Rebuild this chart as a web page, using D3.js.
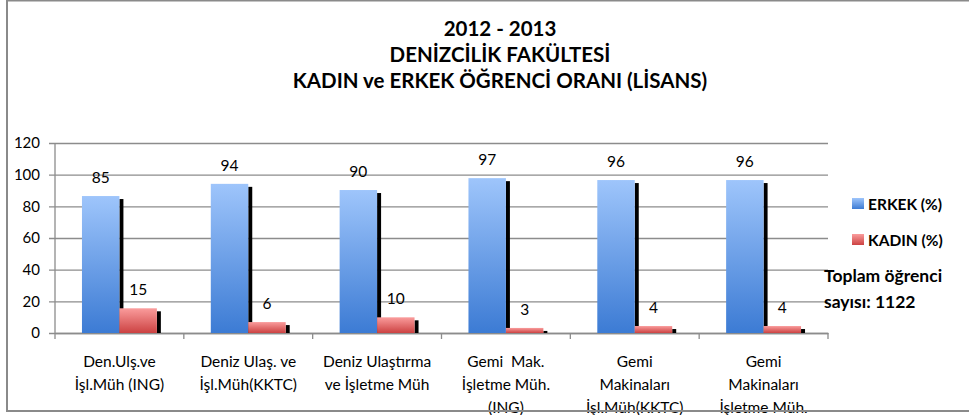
<!DOCTYPE html>
<html>
<head>
<meta charset="utf-8">
<script src="https://cdn.jsdelivr.net/npm/d3@7"></script>
<style>
  body { margin: 0; background: #fff; }
  text { font-family: Lato, "Open Sans", sans-serif; fill: #000; }
</style>
</head>
<body>
<script>
// data
var categories = ["c1", "c2", "c3", "c4", "c5", "c6"];
var categoryLines = [
  ["Den.Ulş.ve", "İşl.Müh (ING)"],
  ["Deniz Ulaş. ve", "İşl.Müh(KKTC)"],
  ["Deniz Ulaştırma", "ve İşletme Müh"],
  ["Gemi  Mak.", "İşletme Müh.", "(ING)"],
  ["Gemi", "Makinaları", "İşl.Müh(KKTC)"],
  ["Gemi", "Makinaları", "İşletme Müh."]
];
var seriesNames = ["ERKEK (%)", "KADIN (%)"];
var erkek = [86.5, 94.2, 90.3, 97.8, 96.6, 96.6];
var kadin = [15.6, 6.9, 9.9, 3.2, 4.4, 4.4];
var erkekLabels = ["85", "94", "90", "97", "96", "96"];
var kadinLabels = ["15", "6", "10", "3", "4", "4"];
var yTicks = [0, 20, 40, 60, 80, 100, 120];
var titleLines = ["2012 - 2013", "DENİZCİLİK FAKÜLTESİ", "KADIN ve ERKEK ÖĞRENCİ ORANI (LİSANS)"];
var noteLines = ["Toplam öğrenci", "sayısı: 1122"];

var svgWidth = 969;
var svgHeight = 415;
var plot = { left: 55, right: 828, top: 143, bottom: 333 };

var svg = d3.select("body")
  .append("svg")
  .attr("width", svgWidth)
  .attr("height", svgHeight);

svg.append("rect").attr("width", svgWidth).attr("height", svgHeight).attr("fill", "#fff");

// gradients
var defs = svg.append("defs");
var grads = [
  { id: "gBlue", top: "#9ec5fb", bottom: "#3c7bd4" },
  { id: "gRed", top: "#fa9c9c", bottom: "#cc4242" }
];
grads.forEach(function(g) {
  var lg = defs.append("linearGradient").attr("id", g.id)
    .attr("x1", 0).attr("y1", 0).attr("x2", 0).attr("y2", 1);
  lg.append("stop").attr("offset", "0%").attr("stop-color", g.top);
  lg.append("stop").attr("offset", "100%").attr("stop-color", g.bottom);
});

// scales
var x0 = d3.scaleBand()
  .domain(categories)
  .range([plot.left, plot.right])
  .padding(0);

var x1 = d3.scaleBand()
  .domain(seriesNames)
  .range([0, x0.bandwidth()])
  .paddingInner(0)
  .paddingOuter(0.72);

var y = d3.scaleLinear()
  .domain([0, 120])
  .range([plot.bottom, plot.top]);

// grid lines + y axis
var leftAxis = d3.axisLeft(y)
  .tickValues(yTicks)
  .tickSize(plot.right - plot.left + 6)
  .tickPadding(9);

var yAxisG = svg.append("g")
  .attr("transform", "translate(" + plot.right + ",0)")
  .call(leftAxis);
yAxisG.select(".domain").remove();
yAxisG.selectAll(".tick line").attr("stroke", "#8c8c8c").attr("stroke-width", 1.3);
yAxisG.selectAll(".tick text")
  .attr("x", -(plot.right - plot.left) - 15)
  .style("font-size", "15px")
  .attr("fill", "#000");

svg.append("line")
  .attr("x1", plot.left).attr("x2", plot.left)
  .attr("y1", plot.top).attr("y2", plot.bottom)
  .attr("stroke", "#8c8c8c").attr("stroke-width", 1.3);

// x axis
var bottomAxis = d3.axisBottom(x0).tickSize(0).tickFormat("");
var xAxisG = svg.append("g")
  .attr("transform", "translate(0," + plot.bottom + ")")
  .call(bottomAxis);
xAxisG.select(".domain").attr("stroke", "#8c8c8c").attr("stroke-width", 1.3);

var boundaries = categories.map(function(c) { return x0(c); }).concat([plot.right]);
svg.selectAll(".xtick")
  .data(boundaries)
  .enter()
  .append("line")
  .attr("x1", d => d).attr("x2", d => d)
  .attr("y1", plot.bottom).attr("y2", plot.bottom + 6)
  .attr("stroke", "#8c8c8c").attr("stroke-width", 1.3);

// bars
var rows = categories.map(function(c, i) {
  return [
    { cat: c, s: seriesNames[0], v: erkek[i], label: erkekLabels[i], fill: "url(#gBlue)" },
    { cat: c, s: seriesNames[1], v: kadin[i], label: kadinLabels[i], fill: "url(#gRed)" }
  ];
});
var flat = [].concat.apply([], rows);

// black shadows first, bars over them
svg.selectAll(".shadow")
  .data(flat)
  .enter()
  .append("rect")
  .attr("x", d => x0(d.cat) + x1(d.s) + x1.bandwidth())
  .attr("y", d => y(d.v) + 3)
  .attr("width", 4)
  .attr("height", d => plot.bottom - y(d.v) - 3)
  .attr("fill", "#000");

svg.selectAll(".bar")
  .data(flat)
  .enter()
  .append("rect")
  .attr("x", d => x0(d.cat) + x1(d.s))
  .attr("y", d => y(d.v))
  .attr("width", x1.bandwidth())
  .attr("height", d => plot.bottom - y(d.v))
  .attr("fill", d => d.fill);

svg.selectAll(".vlabel")
  .data(flat)
  .enter()
  .append("text")
  .attr("x", d => x0(d.cat) + x1(d.s) + x1.bandwidth() / 2)
  .attr("y", d => y(d.v) - 13)
  .attr("text-anchor", "middle")
  .style("font-size", "15.5px")
  .text(d => d.label);

// category labels
categories.forEach(function(c, i) {
  var t = svg.append("text")
    .attr("text-anchor", "middle")
    .style("font-size", "15.5px")
    .style("white-space", "pre");
  categoryLines[i].forEach(function(line, j) {
    t.append("tspan")
      .attr("x", x0(c) + x0.bandwidth() / 2)
      .attr("y", 367 + j * 23)
      .text(line);
  });
});

// title
titleLines.forEach(function(line, j) {
  svg.append("text")
    .attr("x", 500)
    .attr("y", 36 + j * 26)
    .attr("text-anchor", "middle")
    .style("font-size", "20.5px")
    .style("font-weight", "bold")
    .text(line);
});

// legend
var legendFills = ["url(#gBlue)", "url(#gRed)"];
seriesNames.forEach(function(s, i) {
  var ly = 198 + i * 36;
  svg.append("rect")
    .attr("x", 852).attr("y", ly)
    .attr("width", 12).attr("height", 11)
    .attr("fill", legendFills[i]);
  svg.append("text")
    .attr("x", 868).attr("y", ly + 12)
    .style("font-size", "15.5px")
    .style("font-weight", "bold")
    .text(s);
});

noteLines.forEach(function(line, j) {
  svg.append("text")
    .attr("x", 824).attr("y", 282 + j * 26)
    .style("font-size", "17.5px")
    .style("font-weight", "bold")
    .text(line);
});

// outer frame (drawn last, over the labels like in the original)
svg.append("rect")
  .attr("x", 7).attr("y", 0.5)
  .attr("width", 1000).attr("height", 410.5)
  .attr("fill", "none")
  .attr("stroke", "#8a8a8a")
  .attr("stroke-width", 2);
</script>
</body>
</html>
